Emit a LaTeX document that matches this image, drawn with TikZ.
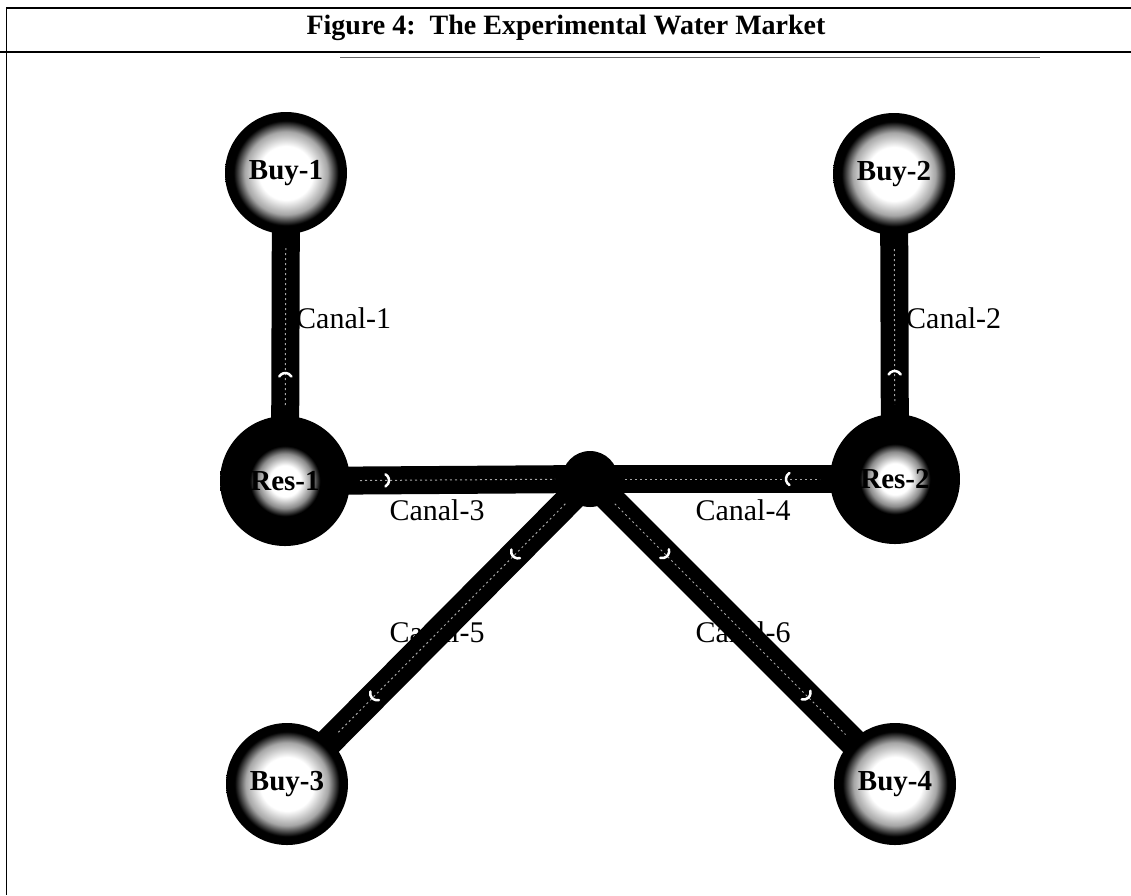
\documentclass[tikz,border=0pt]{standalone}
\usepackage{fontspec}
\setmainfont{Liberation Serif}
\usetikzlibrary{calc}
\pgfdeclarelayer{back}
\pgfdeclarelayer{labels}
\pgfdeclarelayer{canals}
\pgfsetlayers{back,labels,canals,main}
\pgfdeclareradialshading{buyball}{\pgfpointorigin}{color(0bp)=(white); color(11bp)=(white); color(17bp)=(black!35); color(21.5bp)=(black); color(25bp)=(black); color(50bp)=(black)}
\pgfdeclareradialshading{resball}{\pgfpointorigin}{color(0bp)=(white); color(6bp)=(white); color(10.5bp)=(black!45); color(13.5bp)=(black); color(50bp)=(black)}
\tikzset{
  buynode/.style={circle, shading=buyball, minimum size=122pt, inner sep=0pt,
    font=\bfseries\fontsize{29}{32}\selectfont},
  resnode/.style={circle, shading=resball, minimum size=130pt, inner sep=0pt,
    font=\bfseries\fontsize{29}{32}\selectfont},
  junction/.style={circle, fill=black, minimum size=56pt, inner sep=0pt},
  canal/.style={line width=28pt, black},
  canaltex/.style={line width=1pt, black!35, dash pattern=on 2pt off 3pt},
  flowmark/.style={white, line width=2.5pt, line cap=round},
  lbl/.style={inner sep=0pt, font=\fontsize{30}{34}\selectfont},
  rule/.style={line width=2pt, black},
}
% #1 = point on the canal, #2 = direction the mark points to (y axis runs down)
\newcommand\flowarc[2]{\draw[flowmark] ($#1+(#2-60:7)$) arc[start angle=#2-60, end angle=#2+60, radius=7];}
\begin{document}
\begin{tikzpicture}[x=1pt, y=-1pt]
\useasboundingbox (0,0) rectangle (1131,895);
\begin{pgfonlayer}{back}
\fill[white] (0,0) rectangle (1131,895);
\draw[rule] (6,8) -- (1131,8);
\draw[line width=1pt] (6,8) -- (6,895);
\draw[rule] (0,52) -- (1131,52);
\draw[line width=0.8pt, black!60] (340,57) -- (1040,57);
\end{pgfonlayer}
\node[font=\bfseries\fontsize{28}{32}\selectfont, inner sep=0pt] (title) at (566,28) {Figure 4:\ \ The Experimental Water Market};
% nodes
\node[buynode] (b1) at (286,173) {Buy-1};
\node[buynode] (b2) at (894,174) {Buy-2};
\node[resnode] (r1) at (285,481) {Res-1};
\node[resnode] (r2) at (895,479) {Res-2};
\node[junction] (j) at (590,479) {};
\node[buynode] (b3) at (287,784) {Buy-3};
\node[buynode] (b4) at (895,784) {Buy-4};
% labels
\begin{pgfonlayer}{labels}
\node[lbl, anchor=west] (c1) at (296,318) {Canal-1};
\node[lbl, anchor=west] (c2) at (906,318) {Canal-2};
\node[lbl] (c3) at (437,510) {Canal-3};
\node[lbl] (c4) at (743,510) {Canal-4};
\node[lbl] (c5) at (437,632) {Canal-5};
\node[lbl] (c6) at (743,632) {Canal-6};
\end{pgfonlayer}
% canals
\begin{pgfonlayer}{canals}
\draw[canal] (b1.center) -- (r1.center);
\draw[canal] (b2.center) -- (r2.center);
\draw[canal] (r1.center) -- (j.center);
\draw[canal] (j.center) -- (r2.center);
\draw[canal] (j.center) -- (b3.center);
\draw[canal] (j.center) -- (b4.center);
\draw[canaltex, shorten <=75pt, shorten >=75pt] (b1.center) -- (r1.center);
\draw[canaltex, shorten <=75pt, shorten >=75pt] (b2.center) -- (r2.center);
\draw[canaltex, shorten <=75pt, shorten >=35pt] (r1.center) -- (j.center);
\draw[canaltex, shorten <=35pt, shorten >=75pt] (j.center) -- (r2.center);
\draw[canaltex, shorten <=35pt, shorten >=70pt] (j.center) -- (b3.center);
\draw[canaltex, shorten <=35pt, shorten >=70pt] (j.center) -- (b4.center);
\flowarc{($(r1.center)!101pt!(b1.center)$)}{-90}
\flowarc{($(r2.center)!101pt!(b2.center)$)}{-90}
\flowarc{($(r1.center)!97pt!(j.center)$)}{0}
\flowarc{($(r2.center)!102pt!(j.center)$)}{180}
\flowarc{($(j.center)!102pt!(b3.center)$)}{135}
\flowarc{($(j.center)!302pt!(b3.center)$)}{135}
\flowarc{($(j.center)!102pt!(b4.center)$)}{45}
\flowarc{($(j.center)!302pt!(b4.center)$)}{45}
\end{pgfonlayer}
\end{tikzpicture}
\end{document}
